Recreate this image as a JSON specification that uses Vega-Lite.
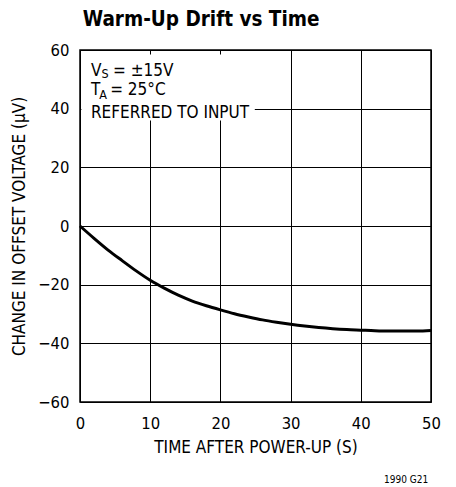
{
  "$schema": "https://vega.github.io/schema/vega-lite/v6.json",
  "width": 351,
  "height": 352,
  "autosize": {"type": "none"},
  "padding": {"left": 80, "top": 50, "right": 25, "bottom": 85},
  "background": "white",
  "config": {
    "font": "DejaVu Sans Condensed",
    "view": {"stroke": "black", "strokeWidth": 1.5},
    "axis": {
      "grid": true,
      "gridColor": "black",
      "gridWidth": 1,
      "gridOpacity": 1,
      "domain": false,
      "ticks": false,
      "labelFont": "DejaVu Sans Condensed",
      "labelFontSize": 16.5,
      "labelColor": "black",
      "titleFont": "DejaVu Sans Condensed",
      "titleFontSize": 17,
      "titleFontWeight": "normal",
      "titleColor": "black"
    }
  },
  "datasets": {
    "curve": [
      {"t": 0, "v": 0}, {"t": 2, "v": -4.2}, {"t": 4, "v": -8.2}, {"t": 6, "v": -11.8},
      {"t": 8, "v": -15.3}, {"t": 10, "v": -18.5}, {"t": 12, "v": -21.2}, {"t": 14, "v": -23.6},
      {"t": 16, "v": -25.6}, {"t": 18, "v": -27.2}, {"t": 20, "v": -28.6}, {"t": 22, "v": -29.9},
      {"t": 24, "v": -31.0}, {"t": 26, "v": -32.0}, {"t": 28, "v": -32.8}, {"t": 30, "v": -33.5},
      {"t": 32, "v": -34.1}, {"t": 34, "v": -34.6}, {"t": 36, "v": -35.0}, {"t": 38, "v": -35.3},
      {"t": 40, "v": -35.5}, {"t": 42, "v": -35.7}, {"t": 44, "v": -35.8}, {"t": 46, "v": -35.8},
      {"t": 48, "v": -35.8}, {"t": 50, "v": -35.6}
    ],
    "box": [{"x1": 0.2, "x2": 24.9, "y1": 36, "y2": 58.5}],
    "labels": [
      {"text": "V", "x": 1.55, "y": 51.2},
      {"text": "= ±15V", "x": 4.7, "y": 51.2},
      {"text": "T", "x": 1.55, "y": 44.7},
      {"text": "= 25°C", "x": 4.3, "y": 44.7},
      {"text": "REFERRED TO INPUT", "x": 1.55, "y": 36.8}
    ],
    "subs": [
      {"text": "S", "x": 3.05, "y": 50.3},
      {"text": "A", "x": 2.75, "y": 43.4}
    ],
    "heading": [{"text": "Warm-Up Drift vs Time", "x": 0.4, "y": 68.2}],
    "note": [{"text": "1990 G21", "x": 49.6, "y": -87.6}]
  },
  "layer": [
    {
      "data": {"name": "curve"},
      "mark": {"type": "line", "color": "black", "strokeWidth": 3, "interpolate": "monotone"},
      "encoding": {
        "x": {
          "field": "t", "type": "quantitative",
          "scale": {"domain": [0, 50], "nice": false, "zero": false},
          "axis": {"values": [0, 10, 20, 30, 40, 50], "title": "TIME AFTER POWER-UP (S)", "labelPadding": 13, "titlePadding": 8, "labelFlush": false}
        },
        "y": {
          "field": "v", "type": "quantitative",
          "scale": {"domain": [-60, 60], "nice": false, "zero": false},
          "axis": {"values": [-60, -40, -20, 0, 20, 40, 60], "title": "CHANGE IN OFFSET VOLTAGE (μV)", "labelPadding": 11, "titlePadding": 9, "labelFlush": false}
        }
      }
    },
    {
      "data": {"name": "box"},
      "mark": {"type": "rect", "fill": "white", "stroke": null},
      "encoding": {
        "x": {"field": "x1", "type": "quantitative"},
        "x2": {"field": "x2"},
        "y": {"field": "y1", "type": "quantitative"},
        "y2": {"field": "y2"}
      }
    },
    {
      "data": {"name": "labels"},
      "mark": {"type": "text", "align": "left", "baseline": "alphabetic", "fontSize": 17, "color": "black"},
      "encoding": {
        "x": {"field": "x", "type": "quantitative"},
        "y": {"field": "y", "type": "quantitative"},
        "text": {"field": "text"}
      }
    },
    {
      "data": {"name": "subs"},
      "mark": {"type": "text", "align": "left", "baseline": "alphabetic", "fontSize": 12.5, "color": "black"},
      "encoding": {
        "x": {"field": "x", "type": "quantitative"},
        "y": {"field": "y", "type": "quantitative"},
        "text": {"field": "text"}
      }
    },
    {
      "data": {"name": "heading"},
      "mark": {"type": "text", "align": "left", "baseline": "alphabetic", "fontSize": 20.5, "fontWeight": "bold", "color": "black", "clip": false},
      "encoding": {
        "x": {"field": "x", "type": "quantitative"},
        "y": {"field": "y", "type": "quantitative"},
        "text": {"field": "text"}
      }
    },
    {
      "data": {"name": "note"},
      "mark": {"type": "text", "align": "right", "baseline": "alphabetic", "fontSize": 10, "color": "black", "clip": false},
      "encoding": {
        "x": {"field": "x", "type": "quantitative"},
        "y": {"field": "y", "type": "quantitative"},
        "text": {"field": "text"}
      }
    }
  ]
}
